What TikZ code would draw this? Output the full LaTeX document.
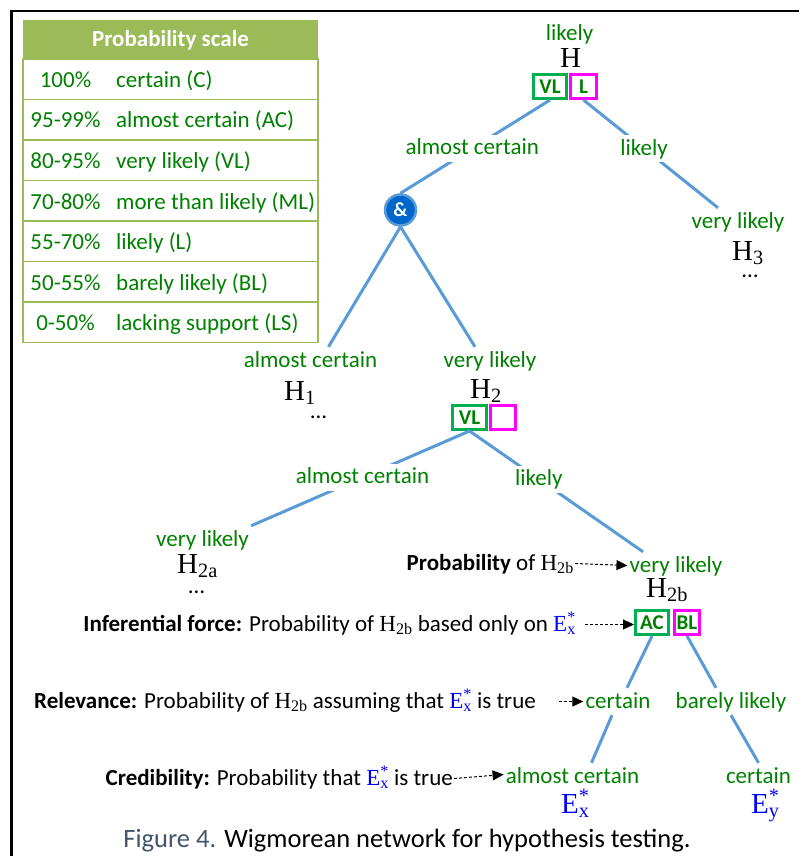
\documentclass[tikz,border=0pt]{standalone}
\usepackage{fix-cm}
\usepackage[no-math]{fontspec}
\setmainfont{Carlito}
\newfontfamily\wigserif{Liberation Serif}
\usetikzlibrary{arrows.meta,positioning}

\definecolor{probgreen}{RGB}{0,128,0}
\definecolor{boxgreen}{RGB}{0,176,80}
\definecolor{boxpink}{RGB}{255,0,255}
\definecolor{linkblue}{RGB}{91,155,213}
\definecolor{ampblue}{RGB}{0,102,204}
\definecolor{evblue}{RGB}{0,0,255}
\definecolor{scalegreen}{RGB}{155,187,89}
\definecolor{capgray}{RGB}{68,84,106}

\newcommand\wigfont{\fontsize{23}{26}\selectfont}
\newcommand\wigbigfont{\fontsize{29}{32}\selectfont}
\newcommand\wigboxfont{\fontsize{21}{24}\selectfont\bfseries}
\newcommand\wighyp[1]{{\wigserif H\textsubscript{#1}}}
\newcommand\wigev[1]{\textcolor{evblue}{\wigserif E\rlap{\textsuperscript{*}}\textsubscript{#1}}}
\newcommand\wigrowheight{40.5}

\tikzset{
  wiglabel/.style={font=\wigfont, text=probgreen, text height=18pt, text depth=5pt, inner sep=2pt, anchor=base},
  wigleaf/.style={wiglabel, text depth=1pt},
  wigedgelabel/.style={wiglabel, fill=white, anchor=center},
  wighypo/.style={font=\wigbigfont, inner sep=0pt, anchor=base west},
  wigdots/.style={font=\wigfont, inner sep=0pt, anchor=base},
  wiglink/.style={draw=linkblue, line width=3pt},
  wigbox/.style={draw=#1, line width=3pt, minimum height=24pt, font=\wigboxfont, text=probgreen, inner sep=0.5pt},
  wigand/.style={circle, fill=ampblue, draw=linkblue, line width=2.5pt, minimum size=31pt, inner sep=0pt, text=white, font=\fontsize{20}{22}\selectfont\bfseries},
  wignote/.style={font=\wigfont, text height=18pt, text depth=5pt, inner sep=1pt, anchor=base east},
  wigpointer/.style={draw, line width=1pt, dash pattern=on 3pt off 2pt, -{Triangle[length=11pt,width=10pt]}},
  scaleline/.style={draw=scalegreen, line width=1.5pt},
  scalehead/.style={font=\wigfont\bfseries, text=white},
  scaletext/.style={font=\wigfont, text=probgreen, inner sep=0pt},
}

\begin{document}
\begin{tikzpicture}[x=1pt,y=-1pt]
  \useasboundingbox (0,0) rectangle (799,856);
  % frame
  \draw[line width=2.5pt] (11.25,856) -- (11.25,11.25) -- (799,11.25);

  % probability scale
  \fill[scalegreen] (23,20) rectangle (318,59);
  \node[scalehead] (scalehead) at (170.5,40) {Probability scale};
  \foreach \p/\t [count=\i] in {100\%/certain (C), 95-99\%/almost certain (AC),
      80-95\%/very likely (VL), 70-80\%/more than likely (ML), 55-70\%/likely (L),
      50-55\%/barely likely (BL), 0-50\%/lacking support (LS)}{
    \pgfmathsetmacro\rowtop{59+\wigrowheight*(\i-1)}
    \draw[scaleline] (23,\rowtop) rectangle (318,\rowtop+\wigrowheight);
    \node[scaletext, anchor=base] (pct\i) at (65.5,\rowtop+28.5) {\p};
    \node[scaletext, anchor=base west] (deg\i) at (116,\rowtop+28.5) {\t};
  }

  % top hypothesis
  \node[wiglabel] (toplab) at (569.5,41) {likely};
  \node[wighypo, anchor=base] (H) at (570.5,68) {\wigserif H};
  \node[wigbox=boxgreen, minimum width=33pt] (hvl) at (550,86.5) {VL};
  \node[wigbox=boxpink, minimum width=26pt, right=1pt of hvl] (hl) {L};
  \node[wigand] (amp) at (400.5,210) {\&};

  \node[wiglabel] (vl3) at (738,228) {very likely};
  \node[wighypo] (H3) at (732,260) {\wighyp{3}};
  \node[wigdots] (dots3) at (750,277) {\ldots};

  \node[wiglabel] (ac1) at (310.5,367) {almost certain};
  \node[wighypo] (H1) at (284,400) {\wighyp{1}};
  \node[wigdots] (dots1) at (318.5,418) {\ldots};

  \node[wiglabel] (vl2) at (490,367) {very likely};
  \node[wighypo] (H2) at (470,398) {\wighyp{2}};
  \node[wigbox=boxgreen, minimum width=34pt] (h2vl) at (469.5,417.5) {VL};
  \node[wigbox=boxpink, minimum width=25pt, right=1pt of h2vl] (h2e) {};

  \node[wiglabel] (vl2a) at (202.5,546) {very likely};
  \node[wighypo] (H2a) at (177,573) {\wighyp{2a}};
  \node[wigdots] (dots2a) at (196.5,593) {\ldots};

  \node[wiglabel] (vl2b) at (676,572) {very likely};
  \node[wighypo] (H2b) at (646,597) {\wighyp{2b}};
  \node[wigbox=boxgreen, minimum width=33pt] (h2bac) at (652,622.5) {AC};
  \node[wigbox=boxpink, minimum width=25pt, right=3pt of h2bac] (h2bbl) {BL};

  \node[wiglabel] (c1) at (618,708) {certain};
  \node[wiglabel] (bl) at (731,708) {barely likely};
  \node[wigleaf] (ac3) at (572.5,783) {almost certain};
  \node[wigleaf] (c2) at (758.5,783) {certain};
  \node[wighypo] (Ex) at (561,813) {\wigev{x}};
  \node[wighypo] (Ey) at (751,813) {\wigev{y}};

  % links
  \draw[wiglink] (hvl.south) -- node[wigedgelabel, pos=0.52] (e1) {almost certain} (amp.north);
  \draw[wiglink] (hl.south) -- node[wigedgelabel, pos=0.45] (e2) {likely} ([xshift=-20pt]vl3.north);
  \draw[wiglink] (amp.south) -- ([xshift=18pt]ac1.north);
  \draw[wiglink] (amp.south) -- ([xshift=-15pt]vl2.north);
  \draw[wiglink] (h2vl.south) -- node[wigedgelabel, pos=0.49] (e3) {almost certain} (vl2a.north east);
  \draw[wiglink] (h2vl.south) -- node[wigedgelabel, pos=0.40] (e4) {likely} ([xshift=-33pt]vl2b.north);
  \draw[wiglink] (h2bac.south) -- ([xshift=9pt]c1.north);
  \draw[wiglink] (h2bbl.south) -- ([xshift=-15pt]bl.north);
  \draw[wiglink] ([xshift=-6pt]c1.south) -- ([xshift=19pt]ac3.north);
  \draw[wiglink] (bl.south) -- (c2.north);

  % notes
  \node[wignote] (prob) at (575,570) {\textbf{Probability} of \wighyp{2b}};
  \node[wignote] (inf) at (577,631) {\textbf{Inferential force:} Probability of \wighyp{2b} based only on \wigev{x}};
  \node[wignote] (rel) at (537,708) {\textbf{Relevance:} Probability of \wighyp{2b} assuming that \wigev{x} is true};
  \node[wignote] (cred) at (454,785) {\textbf{Credibility:} Probability that \wigev{x} is true};
  \draw[wigpointer] (prob.east) -- (vl2b.west);
  \draw[wigpointer] ([xshift=8pt]inf.east) -- (inf.east -| h2bac.west);
  \draw[wigpointer] ([xshift=22pt]rel.east) -- (c1.west);
  \draw[wigpointer] (cred.east) -- (ac3.west);

  \node[font=\fontsize{26.5}{30}\selectfont, anchor=base] (caption) at (407,847)
    {\textcolor{capgray}{Figure 4.} Wigmorean network for hypothesis testing.};
\end{tikzpicture}
\end{document}
